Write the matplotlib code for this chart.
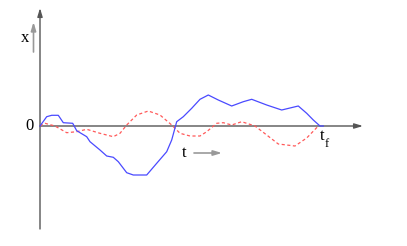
import matplotlib
matplotlib.use("Agg")
import matplotlib.pyplot as plt

# schematic trajectories, in picture units (t to the right, x downward-inverted)
t_blue = [40, 46.7, 51.7, 58.3, 63.3, 72.7, 76.7, 86.7, 90, 100, 106.7, 113.3,
          118.3, 126.7, 133.3, 146.7, 156.7, 166.7, 171.7, 176.7, 183.3, 191.7,
          200, 208.3, 218.3, 231.7, 243.3, 251.7, 266.7, 281.7, 298.3, 306.7,
          313.3, 320, 323.3]
x_blue = [126, 116.7, 115.3, 115.3, 122.7, 123.3, 130.7, 136.7, 141.7, 150, 156,
          157.3, 161.7, 172.7, 175, 175, 163.3, 151.7, 140, 121.7, 116.7, 108.3,
          99.3, 95, 100, 106, 101.7, 99.3, 105, 110, 106, 113.3, 120, 126, 126]

t_red = [40, 45, 55, 66.7, 76.7, 86.7, 100, 113.3, 120, 126.7, 136.7, 148.3,
         160, 171.7, 180, 190, 200, 206.7, 216.7, 223.3, 231.7, 241.7, 255,
         266.7, 278.3, 295, 306.7, 318.3]
x_red = [126, 123.3, 126, 132.7, 131.7, 129.3, 133.3, 136.7, 133.3, 125, 115,
         111, 115, 125, 133.3, 136, 136, 131.7, 123.3, 122.7, 125, 121.7, 126,
         135, 144, 146, 138, 126]

fig = plt.figure(figsize=(4.07, 2.46), dpi=100)
ax = fig.add_axes([0, 0, 1, 1])
ax.set_xlim(0, 407)
ax.set_ylim(246, 0)
ax.axis("off")

axis_col = "#555555"
arrow = dict(arrowstyle="-|>,head_length=0.5,head_width=0.15",
             color=axis_col, lw=1, shrinkA=0, shrinkB=0)
small_arrow = dict(arrowstyle="-|>,head_length=0.5,head_width=0.15",
                   color="#999999", lw=1.2, shrinkA=0, shrinkB=0)

# axes
ax.annotate("", xy=(363, 126), xytext=(40, 126), arrowprops=arrow)
ax.annotate("", xy=(40, 8), xytext=(40, 229), arrowprops=arrow)

# curves
ax.plot(t_red, x_red, color="#ff5a5a", lw=0.9, ls=(0, (2.5, 2)), zorder=3)
ax.plot(t_blue, x_blue, color="#4a4aff", lw=0.9, zorder=4)

# labels
serif = "Liberation Serif"
ax.text(25, 38, "x", fontsize=12, family=serif, ha="center", va="center")
ax.annotate("", xy=(33.5, 22), xytext=(33.5, 52), arrowprops=small_arrow)
ax.text(29, 126, "0", fontsize=12, family=serif, ha="center", va="center")
ax.text(184, 153, "t", fontsize=12, family=serif, ha="center", va="center")
ax.annotate("", xy=(222, 153), xytext=(194, 153), arrowprops=small_arrow)
ax.text(322, 136, "t", fontsize=12, family=serif, ha="center", va="center")
ax.text(327, 144, "f", fontsize=9, family=serif, ha="center", va="center")

fig.savefig("out.png", dpi=100)
